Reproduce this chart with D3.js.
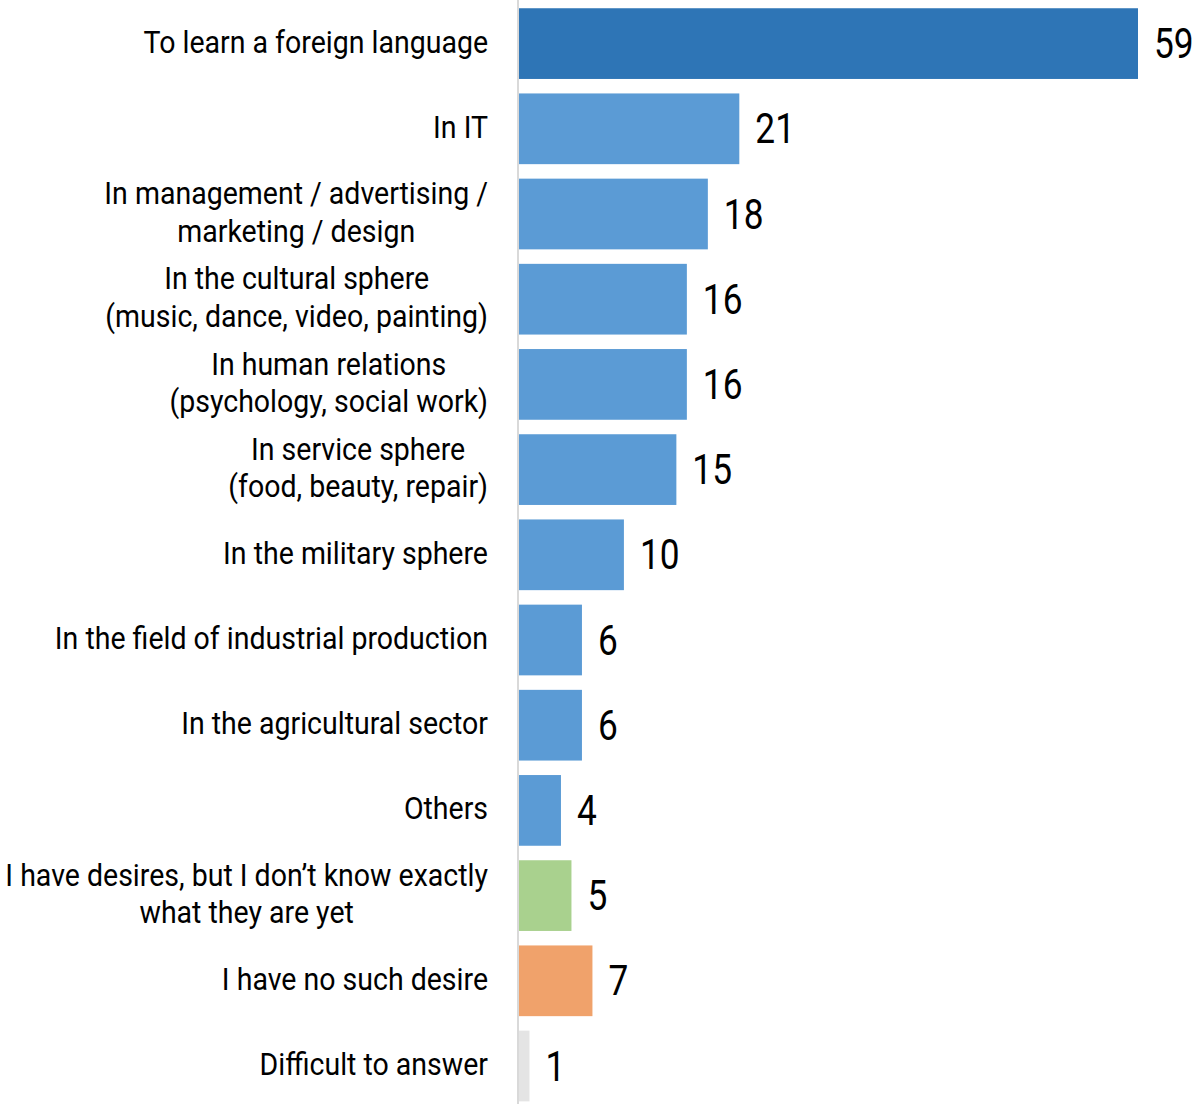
<!DOCTYPE html>
<html>
<head>
<meta charset="utf-8">
<script src="https://cdn.jsdelivr.net/npm/d3@7"></script>
<style>
  html, body { margin: 0; padding: 0; background: #fff; }
  svg { display: block; }
  text { font-family: Roboto, "Noto Sans", sans-serif; fill: #000; }
</style>
</head>
<body>
<svg id="chart" width="1197" height="1104"></svg>
<script>
// Answer categories (line breaks mark wrapped labels)
const categories = [
  "To learn a foreign language",
  "In IT",
  "In management / advertising /\nmarketing / design",
  "In the cultural sphere\n(music, dance, video, painting)",
  "In human relations\n(psychology, social work)",
  "In service sphere\n(food, beauty, repair)",
  "In the military sphere",
  "In the field of industrial production",
  "In the agricultural sector",
  "Others",
  "I have desires, but I don\u2019t know exactly\nwhat they are yet",
  "I have no such desire",
  "Difficult to answer"
];

// Share of respondents, %
const values = [59, 21, 18, 16, 16, 15, 10, 6, 6, 4, 5, 7, 1];

// Answer group of each category
const groups = ["lead", "field", "field", "field", "field", "field", "field",
                "field", "field", "field", "unsure", "none", "hard"];

const groupNames = ["lead", "field", "unsure", "none", "hard"];
const groupColors = ["#2E75B6", "#5B9BD5", "#A9D18E", "#F0A26B", "#E4E4E4"];

const W = 1197, H = 1104;
const axisX = 518;
const labelRight = 488;
const labelSize = 31, labelSquash = 0.92, lineGap = 37.5;
const valueSize = 42, valueSquash = 0.84;

const svg = d3.select("#chart");

const y = d3.scaleBand()
  .domain(categories)
  .range([1, 1108.6])
  .paddingInner(0.17)
  .paddingOuter(0.085);

const x = d3.scaleLinear()
  .domain([0, 59])
  .range([axisX + 1, 1138]);

const color = d3.scaleOrdinal().domain(groupNames).range(groupColors);

const rows = categories.map((c, i) => ({ cat: c, value: values[i], group: groups[i] }));

// Bars
svg.append("g")
  .selectAll("rect")
  .data(rows)
  .join("rect")
  .attr("x", x(0))
  .attr("y", d => y(d.cat))
  .attr("width", d => x(d.value) - x(0))
  .attr("height", y.bandwidth())
  .attr("fill", d => color(d.group));

// Vertical axis line
svg.append("line")
  .attr("x1", axisX).attr("x2", axisX)
  .attr("y1", 0).attr("y2", H)
  .attr("stroke", "#D9D9D9")
  .attr("stroke-width", 2);

// Value labels
svg.append("g")
  .selectAll("g")
  .data(rows)
  .join("g")
  .attr("transform", d => `translate(${x(d.value) + 16},${y(d.cat) + y.bandwidth() / 2}) scale(${valueSquash},1)`)
  .append("text")
  .attr("font-size", valueSize)
  .attr("dy", "0.345em")
  .text(d => d.value);

// Category labels: right-aligned block, wrapped lines centred within it
const labels = svg.append("g")
  .selectAll("g")
  .data(rows)
  .join("g")
  .attr("transform", d => `translate(${labelRight},${y(d.cat) + y.bandwidth() / 2}) scale(${labelSquash},1)`);

labels.each(function (d) {
  const g = d3.select(this);
  const lines = d.cat.split("\n");
  const texts = lines.map((ln, k) => g.append("text")
    .attr("font-size", labelSize)
    .attr("y", (k - (lines.length - 1) / 2) * lineGap)
    .attr("dy", "0.29em")
    .text(ln));
  const widths = texts.map(t => t.node().getComputedTextLength());
  const bw = d3.max(widths);
  texts.forEach(t => t.attr("text-anchor", "middle").attr("x", -bw / 2));
});
</script>
</body>
</html>
